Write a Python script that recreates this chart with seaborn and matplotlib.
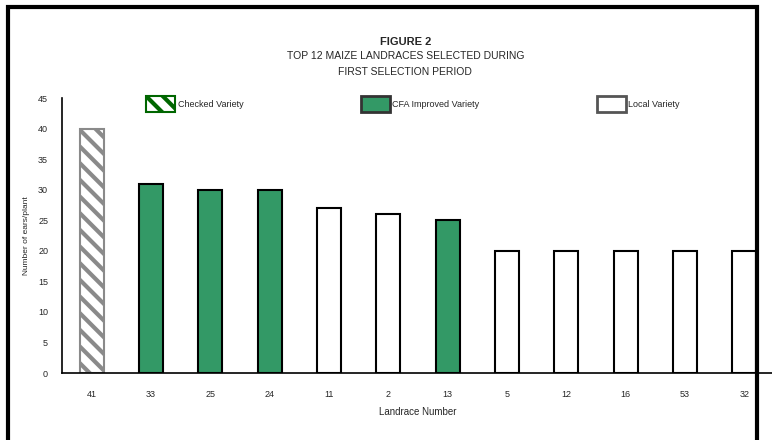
import matplotlib
matplotlib.use("Agg")

import matplotlib.pyplot as plt
import seaborn as sns
import pandas as pd
from matplotlib.patches import Patch, Rectangle

# data
landraces = ["41", "33", "25", "24", "11", "2", "13", "5", "12", "16", "53", "32"]
values = [40, 31, 30, 30, 27, 26, 25, 20, 20, 20, 20, 20]
groups = ["Checked Variety", "CFA Improved Variety", "CFA Improved Variety",
          "CFA Improved Variety", "Local Variety", "Local Variety",
          "CFA Improved Variety", "Local Variety", "Local Variety",
          "Local Variety", "Local Variety", "Local Variety"]
group_order = ["Checked Variety", "CFA Improved Variety", "Local Variety"]
y_ticks = [0, 5, 10, 15, 20, 25, 30, 35, 40, 45]

df = pd.DataFrame({"Landrace": landraces, "Value": values, "Group": groups})

sns.set_style("white")
plt.rcParams["font.family"] = ["Liberation Sans", "DejaVu Sans"]
plt.rcParams["hatch.linewidth"] = 3.0

green = "#339966"

fig = plt.figure(figsize=(7.72, 4.4), dpi=100)
ax = fig.add_axes([62 / 772, 67 / 440, 712 / 772, 275 / 440])

sns.barplot(
    data=df,
    x="Landrace",
    y="Value",
    hue="Group",
    order=landraces,
    hue_order=group_order,
    palette={"Checked Variety": "white",
             "CFA Improved Variety": green,
             "Local Variety": "white"},
    saturation=1,
    dodge=False,
    width=0.41,
    legend=False,
    ax=ax
)

# style each group of bars
for cont, grp in zip(ax.containers, group_order):
    for bar in cont:
        if grp == "Checked Variety":
            bar.set_facecolor("white")
            bar.set_edgecolor("#8a8a8a")
            bar.set_hatch("\\\\")
            bar.set_linewidth(1.5)
        else:
            bar.set_edgecolor("black")
            bar.set_linewidth(1.5)

ax.set_xlim(-0.5, len(landraces) - 0.5)
ax.set_ylim(0, 45)
ax.set_yticks(y_ticks)
ax.set_yticklabels([str(t) for t in y_ticks], fontsize=6.5)

ax.set_xticks(range(len(landraces)))
ax.set_xticklabels(landraces, fontsize=6.5)
ax.set_xticks([i - 0.5 for i in range(len(landraces) + 1)], minor=True)
ax.tick_params(axis="x", which="major", length=0, pad=12)
ax.tick_params(axis="x", which="minor", length=4, width=1, color="black", direction="out")
ax.tick_params(axis="y", length=4, width=1, color="black", direction="out", pad=6)

ax.set_xlabel("Landrace Number", fontsize=7, labelpad=6)
ax.set_ylabel("Number of ears/plant", fontsize=6, labelpad=6)

sns.despine(ax=ax)
for side in ["left", "bottom"]:
    ax.spines[side].set_color("black")
    ax.spines[side].set_linewidth(1.2)

# titles
fig.text(0.525, 1 - 42 / 440, "FIGURE 2", ha="center", va="center",
         fontsize=8, fontweight="bold")
fig.text(0.525, 1 - 56 / 440, "TOP 12 MAIZE LANDRACES SELECTED DURING",
         ha="center", va="center", fontsize=7.5)
fig.text(0.525, 1 - 72 / 440, "FIRST SELECTION PERIOD",
         ha="center", va="center", fontsize=7.5)

# legend
handles = [
    Patch(facecolor="white", edgecolor="#006600", hatch="\\\\", linewidth=1.5),
    Patch(facecolor=green, edgecolor="#333333", linewidth=2),
    Patch(facecolor="white", edgecolor="#555555", linewidth=2),
]
leg = fig.legend(
    handles,
    group_order,
    loc="center",
    bbox_to_anchor=(0.535, 1 - 104 / 440),
    ncol=3,
    frameon=False,
    fontsize=6.5,
    handlelength=3.2,
    handleheight=2.2,
    handletextpad=0.3,
    columnspacing=13
)

# outer frame
fig.add_artist(Rectangle((8 / 772, -0.02), (757 - 8) / 772, 1 - 7 / 440 + 0.02,
                         transform=fig.transFigure, fill=False,
                         edgecolor="black", linewidth=3))

fig.savefig("out.png", dpi=100)
plt.close()
